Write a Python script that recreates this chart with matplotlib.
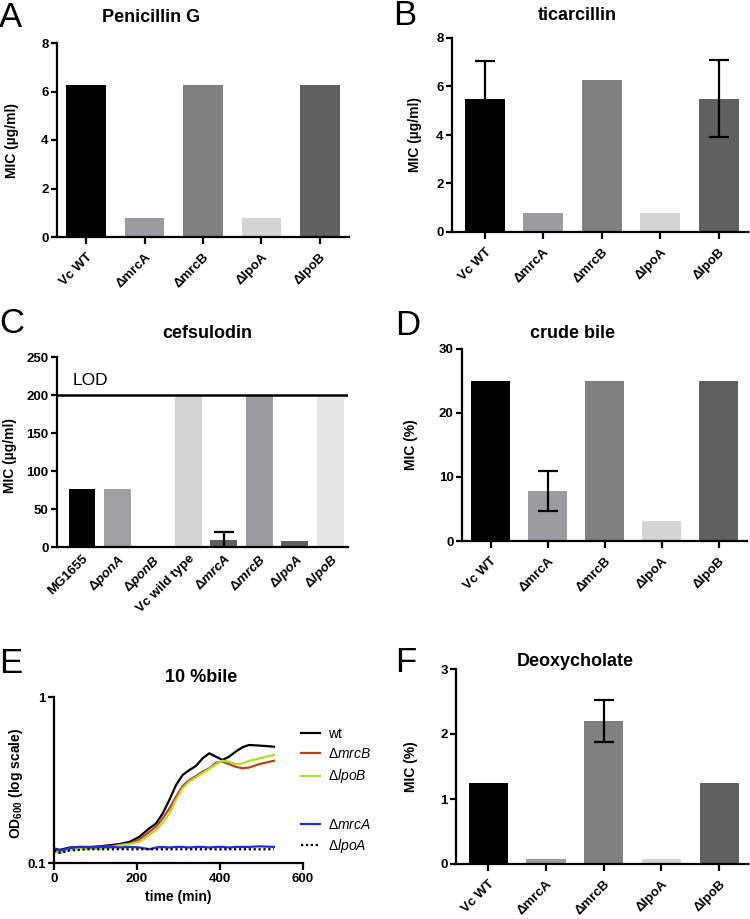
# -*- coding: utf-8 -*-

import numpy as np
import matplotlib
matplotlib.use('Agg')
import matplotlib.pyplot as plt
from matplotlib import rc

rc('font', **{'family': 'sans-serif', 'sans-serif': ['Liberation Sans'],
              'size': 9.5, 'weight': 'bold'})
rc('axes', labelweight='bold')
rc('mathtext', fontset='custom', rm='Liberation Sans:bold',
   bf='Liberation Sans:bold', it='Liberation Sans:italic:normal',
   sf='Liberation Sans:normal', bfit='Liberation Sans:italic:bold')

# ---- data ----
strains = ['Vc WT', '\u0394mrcA', '\u0394mrcB', '\u0394lpoA', '\u0394lpoB']
bar_colors = ['#000000', '#9c9ca0', '#808080', '#d4d4d4', '#606060']

penG = [6.25, 0.78, 6.25, 0.78, 6.25]

ticar = [5.5, 0.78, 6.25, 0.78, 5.5]
ticar_err = [1.55, 0, 0, 0, 1.6]

cef_strains = ['MG1655', r'$\Delta\mathbfit{ponA}$', r'$\Delta\mathbfit{ponB}$',
               'Vc wild type', r'$\Delta\mathbfit{mrcA}$', r'$\Delta\mathbfit{mrcB}$',
               r'$\Delta\mathbfit{lpoA}$', r'$\Delta\mathbfit{lpoB}$']
cef = [76, 76, 1, 200, 9.5, 200, 7.5, 200]
cef_err = [0, 0, 0, 0, 10.5, 0, 0, 0]
cef_colors = ['#000000', '#a0a0a4', '#606060', '#d4d4d4',
              '#606060', '#9d9da1', '#606060', '#e6e6e6']
lod = 200

bile = [25, 7.8, 25, 3.2, 25]
bile_err = [0, 3.15, 0, 0, 0]

deoxy = [1.25, 0.08, 2.2, 0.08, 1.25]
deoxy_err = [0, 0, 0.32, 0, 0]

# growth curves, 10 % bile
t = [0, 14, 38, 62, 86, 110, 134, 158, 182, 206, 230, 246, 262, 278, 294,
     310, 326, 342, 358, 374, 390, 406, 422, 438, 454, 470, 494, 530]
od_wt = [0.1225, 0.120, 0.124, 0.125, 0.125, 0.126, 0.128, 0.130, 0.134, 0.144,
         0.162, 0.173, 0.199, 0.240, 0.295, 0.339, 0.363, 0.384, 0.427, 0.458,
         0.437, 0.418, 0.437, 0.469, 0.498, 0.514, 0.510, 0.502]
od_mrcB = [0.120, 0.117, 0.122, 0.124, 0.124, 0.125, 0.126, 0.128, 0.131, 0.139,
           0.154, 0.166, 0.186, 0.213, 0.251, 0.291, 0.316, 0.334, 0.355, 0.372,
           0.402, 0.408, 0.394, 0.380, 0.372, 0.376, 0.394, 0.413]
od_lpoB = [0.117, 0.115, 0.120, 0.122, 0.122, 0.122, 0.123, 0.128, 0.130, 0.134,
           0.148, 0.158, 0.175, 0.199, 0.240, 0.282, 0.309, 0.328, 0.348, 0.369,
           0.394, 0.413, 0.408, 0.394, 0.398, 0.412, 0.426, 0.448]
od_mrcA = [0.122, 0.119, 0.123, 0.125, 0.124, 0.125, 0.125, 0.124, 0.125, 0.124,
           0.121, 0.124, 0.125, 0.124, 0.125, 0.125, 0.124, 0.125, 0.125, 0.124,
           0.125, 0.125, 0.124, 0.125, 0.125, 0.125, 0.126, 0.125]
od_lpoA = [0.119, 0.115, 0.119, 0.120, 0.121, 0.121, 0.121, 0.121, 0.121, 0.121,
           0.121, 0.121, 0.121, 0.121, 0.121, 0.121, 0.121, 0.121, 0.121, 0.121,
           0.121, 0.121, 0.121, 0.121, 0.121, 0.121, 0.121, 0.121]

W, H = 750, 919
fig = plt.figure(figsize=(W/100, H/100), dpi=100)


def px_axes(l, r, top, bot):
    return fig.add_axes([l/W, 1 - bot/H, (r - l)/W, (bot - top)/H])


def style(ax, xticks=True, xpad=5):
    for s in ['top', 'right']:
        ax.spines[s].set_visible(False)
    for s in ['left', 'bottom']:
        ax.spines[s].set_linewidth(1.6)
    ax.tick_params(axis='y', width=1.6, length=4, pad=2)
    if xticks:
        ax.tick_params(axis='x', width=1.6, length=5, pad=xpad)
    else:
        ax.tick_params(axis='x', length=0, pad=4)


def bar_panel(ax, vals, err, ymax, step, ylabel, ylab_x, xlim=(-0.5, 4.5)):
    x = np.arange(len(vals))
    ax.bar(x, vals, width=0.68, color=bar_colors, zorder=2)
    if err is not None:
        e = np.array(err, dtype=float)
        m = e > 0
        ax.errorbar(x[m], np.array(vals)[m], yerr=e[m], fmt='none',
                    ecolor='black', elinewidth=1.6, capsize=7, capthick=1.6,
                    zorder=3)
    ax.set_xlim(*xlim)
    ax.set_ylim(0, ymax)
    ax.set_yticks(np.arange(0, ymax + step/2, step))
    ax.set_xticks(x)
    ax.set_xticklabels(strains, rotation=45, ha='right', rotation_mode='anchor')
    ax.set_ylabel(ylabel, fontsize=10, fontweight='bold')
    ax.yaxis.set_label_coords(ylab_x, 0.5)
    style(ax)


def letter(s, x, y):
    fig.text(x/W, 1 - y/H, s, fontsize=25, fontweight='normal', va='baseline')


def title(s, x, y):
    fig.text(x/W, 1 - y/H, s, fontsize=13, fontweight='bold',
             ha='center', va='center')


# A
axA = px_axes(57, 349, 43, 237)
bar_panel(axA, penG, None, 8, 2, 'MIC (\u00b5g/ml)', -0.13)
letter('A', -1, 27)
title('Penicillin G', 151, 17)

# B
axB = px_axes(452, 748, 38, 232)
bar_panel(axB, ticar, ticar_err, 8, 2, 'MIC (\u00b5g/ml)', -0.10, xlim=(-0.56, 4.5))
letter('B', 393, 25)
title('ticarcillin', 577, 15)

# C
axC = px_axes(57, 348, 357, 547)
xc = np.arange(len(cef))
axC.bar(xc, cef, width=0.75, color=cef_colors, zorder=2)
axC.errorbar(xc[4:5], cef[4:5], yerr=cef_err[4:5], fmt='none', ecolor='black',
             elinewidth=1.6, capsize=7, capthick=1.6, zorder=3)
axC.axhline(lod, color='black', lw=1.8, zorder=4)
axC.text(-0.25, 213, 'LOD', fontsize=12.5, fontweight='normal', va='baseline')
axC.set_xlim(-0.7, 7.5)
axC.set_ylim(0, 250)
axC.set_yticks(np.arange(0, 251, 50))
axC.set_xticks(xc)
axC.set_xticklabels(cef_strains, rotation=45, ha='right', rotation_mode='anchor')
axC.set_ylabel('MIC (\u00b5g/ml)', fontsize=10, fontweight='bold')
axC.yaxis.set_label_coords(-0.137, 0.48)
style(axC, xticks=False)
letter('C', -1, 333)
title('cefsulodin', 207, 334)

# D
axD = px_axes(462, 747, 349, 541)
bar_panel(axD, bile, bile_err, 30, 10, 'MIC (%)', -0.155)
letter('D', 395, 335)
title('crude bile', 572, 334)

# E
axE = px_axes(54, 303, 697, 863)
axE.plot(t, od_wt, color='black', lw=1.6, label='wt')
axE.plot(t, od_mrcB, color='#c0401c', lw=1.6, label='$\\mathsf{\u0394}\\mathit{mrcB}$')
axE.plot(t, od_lpoB, color='#a6e22e', lw=1.6, label='$\\mathsf{\u0394}\\mathit{lpoB}$')
axE.plot(t, od_mrcA, color='#1f2fe0', lw=1.6, label='$\\mathsf{\u0394}\\mathit{mrcA}$')
axE.plot(t, od_lpoA, color='black', lw=1.6, ls=(0, (1, 1.2)),
         label='$\\mathsf{\u0394}\\mathit{lpoA}$')
axE.set_yscale('log')
axE.set_ylim(0.1, 1)
axE.set_xlim(0, 600)
axE.set_xticks([0, 200, 400, 600])
axE.set_yticks([0.1, 1])
axE.set_yticklabels(['0.1', '1'])
axE.minorticks_off()
axE.set_xlabel('time (min)', fontsize=10, fontweight='bold', labelpad=4)
axE.set_ylabel(r'OD$_{\mathbf{600}}$ (log scale)', fontsize=10, fontweight='bold')
axE.yaxis.set_label_coords(-0.116, 0.48)
style(axE, xpad=2)
h, lab = axE.get_legend_handles_labels()
legkw = dict(frameon=False, loc='upper left', borderpad=0, borderaxespad=0,
             handlelength=1.4, handletextpad=0.6,
             prop={'weight': 'normal', 'size': 10})
leg1 = axE.legend(h[:3], lab[:3], bbox_to_anchor=(0.99, 0.82),
                  labelspacing=0.45, **legkw)
axE.add_artist(leg1)
axE.legend(h[3:], lab[3:], bbox_to_anchor=(0.99, 0.27),
           labelspacing=0.35, **legkw)
letter('E', -1, 673)
title('10 %bile', 201, 677)

# F
axF = px_axes(456, 748, 669, 864)
bar_panel(axF, deoxy, deoxy_err, 3, 1, 'MIC (%)', -0.13, xlim=(-0.56, 4.5))
letter('F', 395, 672)
title('Deoxycholate', 575, 661)

fig.savefig('out.png', dpi=100)
